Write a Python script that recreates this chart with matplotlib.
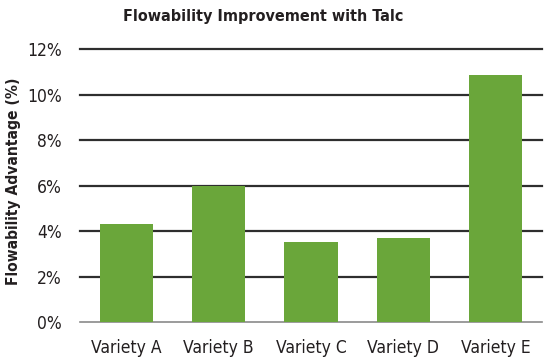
import matplotlib
matplotlib.use("Agg")
import matplotlib.pyplot as plt
from matplotlib.ticker import FuncFormatter

# data
varieties = ["Variety A", "Variety B", "Variety C", "Variety D", "Variety E"]
advantage = [4.3, 6.0, 3.5, 3.7, 10.85]
yticks = [0, 2, 4, 6, 8, 10, 12]

plt.rcParams['font.family'] = ['DejaVu Sans']
plt.rcParams['font.stretch'] = 'condensed'

fig = plt.figure(figsize=(5.48, 3.6), dpi=100)
ax = fig.add_axes([0.146, 0.1056, 0.843, 0.758])

ax.bar(range(len(varieties)), advantage, width=0.575, color="#6aa63a", zorder=3)

ax.set_xlim(-0.5, len(varieties) - 0.5)
ax.set_ylim(0, 12)
ax.set_yticks(yticks)
ax.yaxis.set_major_formatter(FuncFormatter(lambda v, p: "%d%%" % v))
ax.set_xticks(range(len(varieties)))
ax.set_xticklabels(varieties)

for y in yticks[1:]:
    ax.axhline(y, color="#2e2e2e", lw=1.6, zorder=2, clip_on=False)

for s in ["top", "right", "left"]:
    ax.spines[s].set_visible(False)
ax.spines["bottom"].set_color("#8a8a8a")
ax.spines["bottom"].set_linewidth(1.2)
ax.tick_params(axis="both", length=0, labelsize=12.5, colors="#231f20")
ax.tick_params(axis="x", pad=12)
ax.tick_params(axis="y", pad=13)

ax.set_ylabel("Flowability Advantage (%)", fontsize=11.2, fontweight="bold", color="#231f20")
ax.yaxis.set_label_coords(-0.127, 0.515)
fig.text(0.48, 0.955, "Flowability Improvement with Talc", ha="center", va="center",
         fontsize=11.5, fontweight="bold", color="#231f20")

fig.savefig("out.png", dpi=100)
